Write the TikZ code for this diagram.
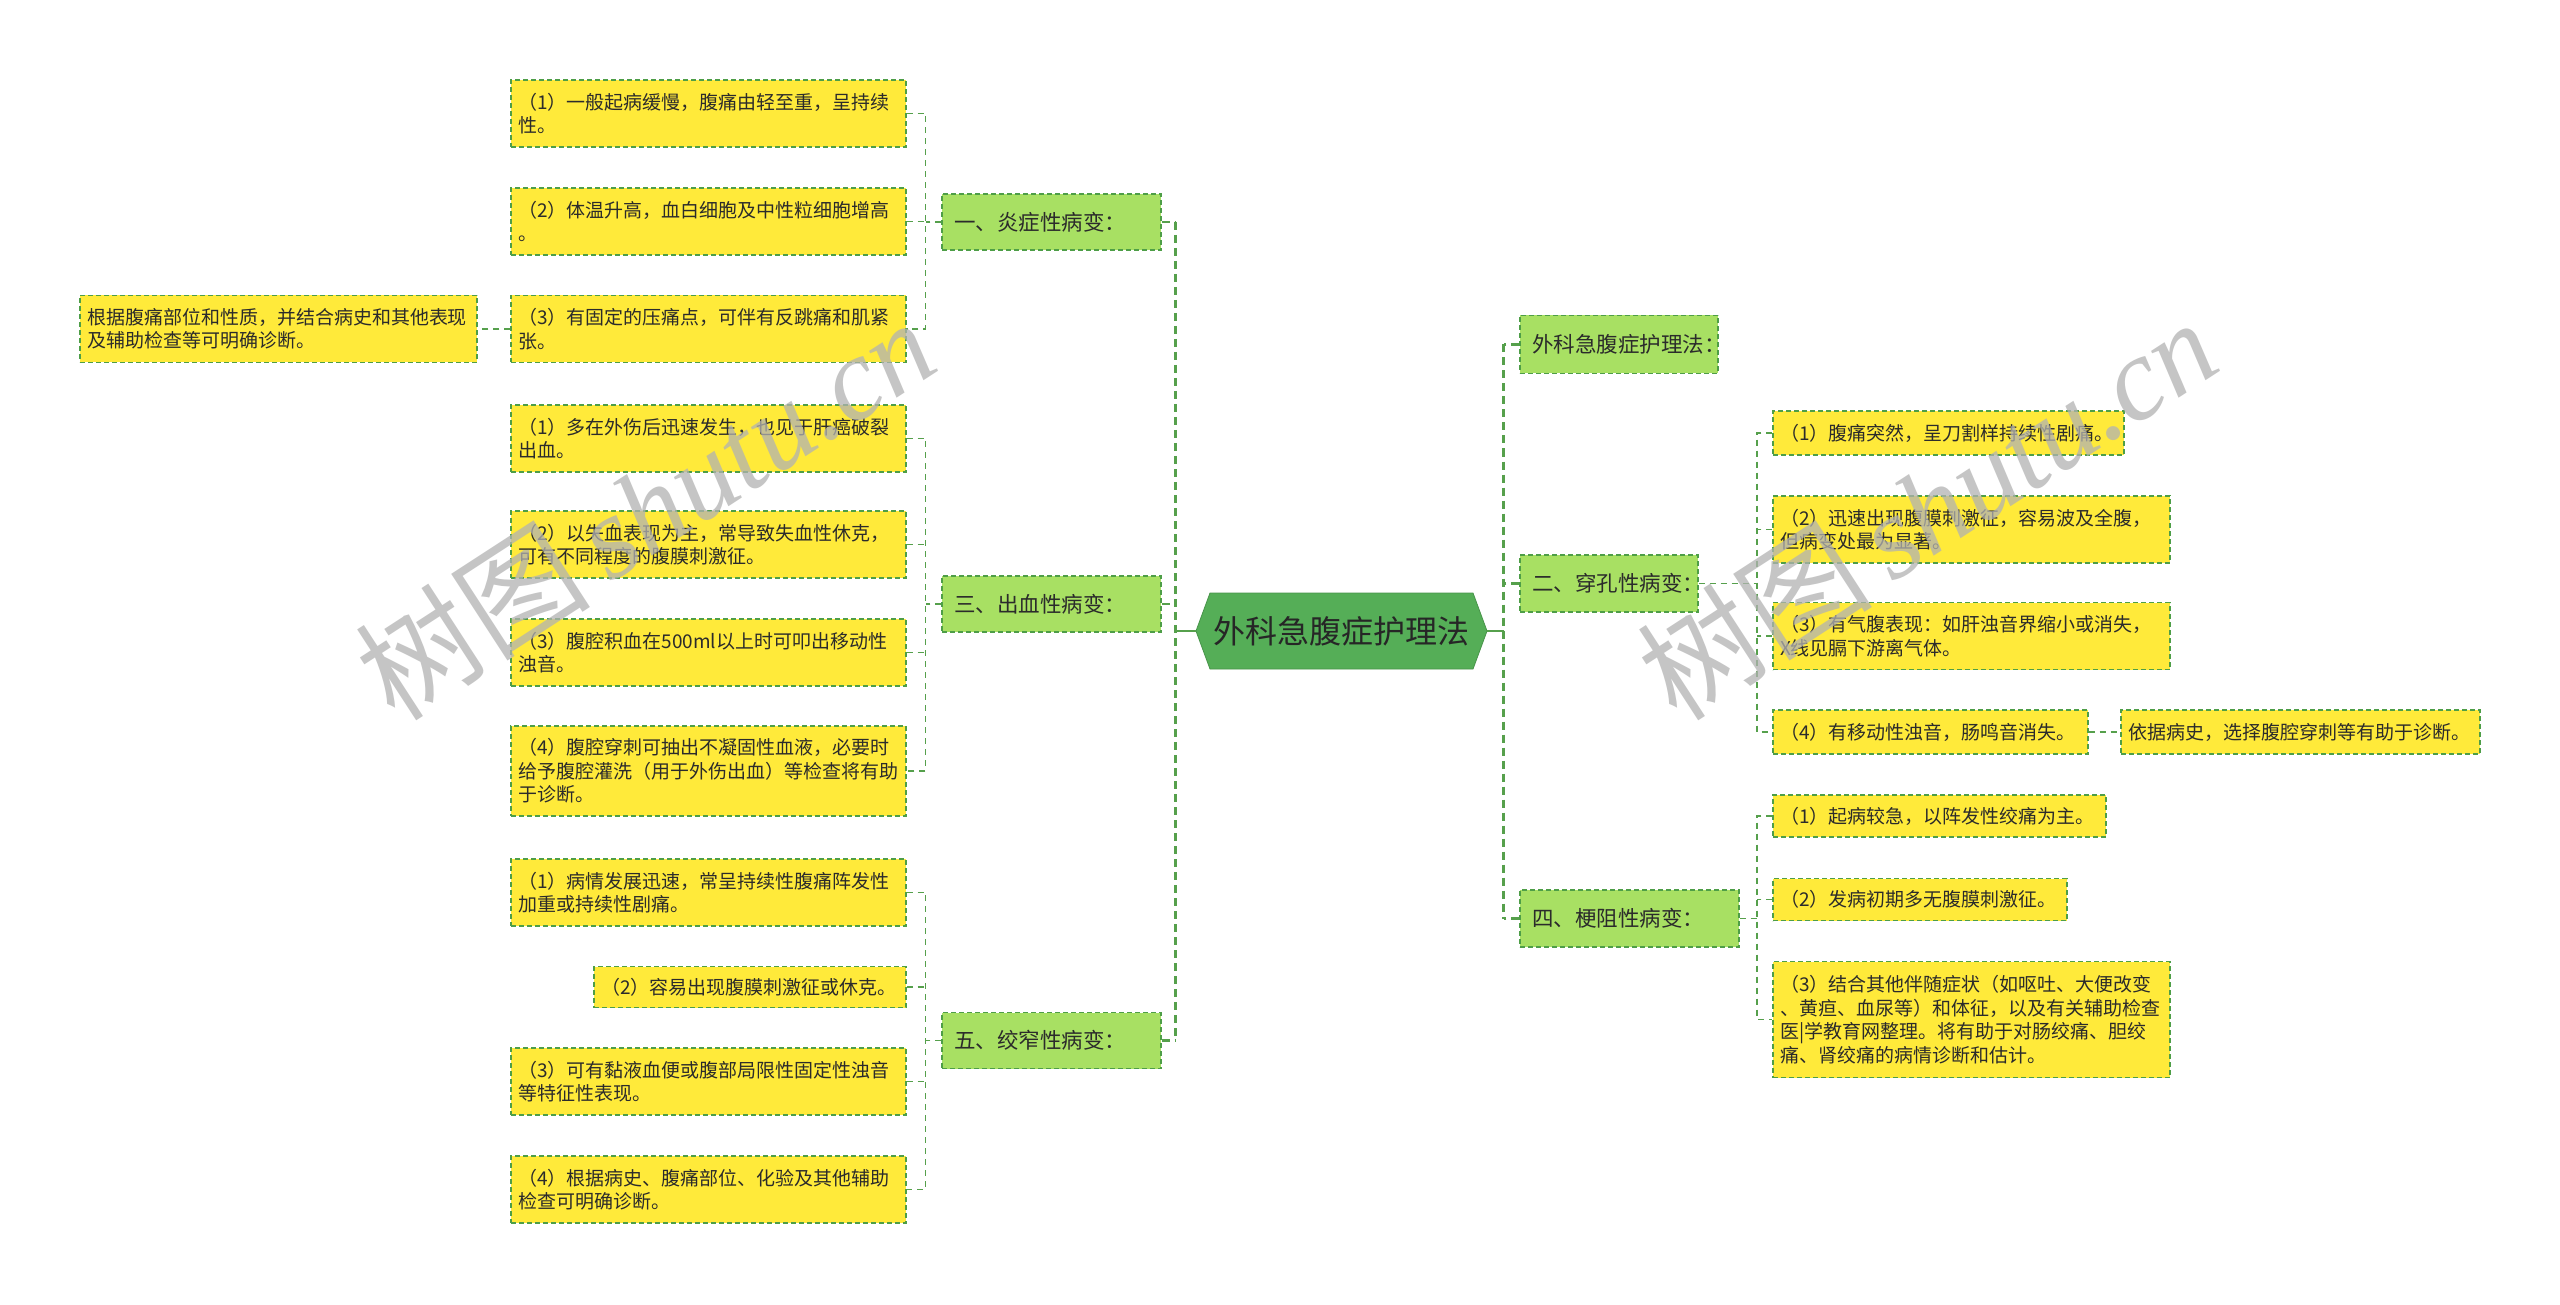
\documentclass[tikz,border=0pt]{standalone}
\usepackage{fontspec}
\setmainfont{Noto Sans CJK SC}
\newfontfamily\wmlatin{Liberation Serif}
\newfontfamily\wmcjk{Noto Sans CJK SC}
\definecolor{leafy}{HTML}{FFEA3A}
\definecolor{branchg}{HTML}{A8E063}
\definecolor{centerg}{HTML}{55AE57}
\definecolor{borderg}{HTML}{4E9E47}
\definecolor{linkg}{HTML}{56A04C}
\definecolor{txt}{HTML}{2B2B2B}
\begin{document}
\begin{tikzpicture}[x=1pt,y=-1pt,
  leaf/.style={draw=borderg, fill=leafy, line width=1.3pt, dash pattern=on 5pt off 3pt,
    font=\fontsize{19}{23.5}\selectfont, text=txt, align=left, inner xsep=7pt, inner ysep=0pt},
  branch/.style={draw=borderg, fill=branchg, line width=1.3pt, dash pattern=on 5pt off 3pt,
    font=\fontsize{21.5}{26}\selectfont, text=txt, align=left, inner xsep=12pt, inner ysep=0pt},
  conn/.style={draw=linkg, line width=1.4pt, dash pattern=on 6pt off 5pt},
  trunkc/.style={draw=linkg, line width=2.6pt, dash pattern=on 8pt off 5pt},
  solidc/.style={draw=linkg, line width=2.6pt},
  wm/.style={text=black!30, opacity=0.75, rotate=33, inner sep=0pt}
]
\useasboundingbox (0,0) rectangle (2560,1305);
\fill[white] (0,0) rectangle (2560,1305);

\coordinate (v1) at (925.7,0);
\coordinate (tl) at (1175.5,0);
\coordinate (tr) at (1503.7,0);
\coordinate (vr) at (1757,0);

% ---------- center ----------
\path[fill=centerg, draw=centerg!85!black, line width=0.8pt]
  (1196,631) -- (1210,593) -- (1473,593) -- (1487,631) -- (1473,669) -- (1210,669) -- cycle;
\node[minimum width=291pt, minimum height=76pt, inner sep=0pt, text=black!85,
  font=\fontsize{32}{36}\selectfont] (hex) at (1341.5,631) {外科急腹症护理法};

% ---------- left branches ----------
\node[branch, minimum width=219pt, text width=195pt, minimum height=56pt] (b1) at (1051.5,222) {一、炎症性病变：};
\node[branch, minimum width=219pt, text width=195pt, minimum height=56pt] (b3) at (1051.5,604) {三、出血性病变：};
\node[branch, minimum width=219pt, text width=195pt, minimum height=56pt] (b5) at (1051.5,1040.5) {五、绞窄性病变：};

% 一
\node[leaf, minimum width=395pt, text width=381pt, minimum height=67pt] (l1a) at (708.5,113.5)
  {（1）一般起病缓慢，腹痛由轻至重，呈持续\\性。};
\node[leaf, minimum width=395pt, text width=381pt, minimum height=67pt] (l1b) at (708.5,221.5)
  {（2）体温升高，血白细胞及中性粒细胞增高\\。};
\node[leaf, minimum width=395pt, text width=381pt, minimum height=67pt] (l1c) at (708.5,329)
  {（3）有固定的压痛点，可伴有反跳痛和肌紧\\张。};
\node[leaf, minimum width=397pt, text width=383pt, minimum height=67pt] (far) at (278.5,329)
  {根据腹痛部位和性质，并结合病史和其他表现\\及辅助检查等可明确诊断。};

% 三
\node[leaf, minimum width=395pt, text width=381pt, minimum height=67pt] (l3a) at (708.5,438.5)
  {（1）多在外伤后迅速发生，也见于肝癌破裂\\出血。};
\node[leaf, minimum width=395pt, text width=381pt, minimum height=67pt] (l3b) at (708.5,544.5)
  {（2）以失血表现为主，常导致失血性休克，\\可有不同程度的腹膜刺激征。};
\node[leaf, minimum width=395pt, text width=381pt, minimum height=67pt] (l3c) at (708.5,652.5)
  {（3）腹腔积血在500ml以上时可叩出移动性\\浊音。};
\node[leaf, minimum width=395pt, text width=381pt, minimum height=90pt] (l3d) at (708.5,771)
  {（4）腹腔穿刺可抽出不凝固性血液，必要时\\给予腹腔灌洗（用于外伤出血）等检查将有助\\于诊断。};

% 五
\node[leaf, minimum width=395pt, text width=381pt, minimum height=67pt] (l5a) at (708.5,892.5)
  {（1）病情发展迅速，常呈持续性腹痛阵发性\\加重或持续性剧痛。};
\node[leaf, minimum width=312pt, text width=298pt, minimum height=41pt] (l5b) at (750,987)
  {（2）容易出现腹膜刺激征或休克。};
\node[leaf, minimum width=395pt, text width=381pt, minimum height=67pt] (l5c) at (708.5,1081.5)
  {（3）可有黏液血便或腹部局限性固定性浊音\\等特征性表现。};
\node[leaf, minimum width=395pt, text width=381pt, minimum height=67pt] (l5d) at (708.5,1189.5)
  {（4）根据病史、腹痛部位、化验及其他辅助\\检查可明确诊断。};

% ---------- right branches ----------
\node[branch, minimum width=198pt, text width=174pt, minimum height=58pt] (r0) at (1619,344.5) {外科急腹症护理法：};
\node[branch, minimum width=178pt, text width=154pt, minimum height=57pt] (r2) at (1609,583.5) {二、穿孔性病变：};
\node[branch, minimum width=219pt, text width=195pt, minimum height=57pt] (r4) at (1629.5,918.5) {四、梗阻性病变：};

% 二
\node[leaf, minimum width=351pt, text width=337pt, minimum height=44pt] (r2a) at (1948.5,433)
  {（1）腹痛突然，呈刀割样持续性剧痛。};
\node[leaf, minimum width=397pt, text width=383pt, minimum height=67pt] (r2b) at (1971.5,529.5)
  {（2）迅速出现腹膜刺激征，容易波及全腹，\\但病变处最为显著。};
\node[leaf, minimum width=397pt, text width=383pt, minimum height=67pt] (r2c) at (1971.5,636)
  {（3）有气腹表现：如肝浊音界缩小或消失，\\X线见膈下游离气体。};
\node[leaf, minimum width=315pt, text width=301pt, minimum height=44pt] (r2d) at (1930.5,732)
  {（4）有移动性浊音，肠鸣音消失。};
\node[leaf, minimum width=359pt, text width=345pt, minimum height=44pt] (r2e) at (2300.5,732)
  {依据病史，选择腹腔穿刺等有助于诊断。};

% 四
\node[leaf, minimum width=333pt, text width=319pt, minimum height=42pt] (r4a) at (1939.5,816)
  {（1）起病较急，以阵发性绞痛为主。};
\node[leaf, minimum width=294pt, text width=280pt, minimum height=42pt] (r4b) at (1920,899.5)
  {（2）发病初期多无腹膜刺激征。};
\node[leaf, minimum width=397pt, text width=383pt, minimum height=116pt] (r4c) at (1971.5,1019.6)
  {（3）结合其他伴随症状（如呕吐、大便改变\\、黄疸、血尿等）和体征，以及有关辅助检查\\医|学教育网整理。将有助于对肠绞痛、胆绞\\痛、肾绞痛的病情诊断和估计。};

% ---------- connectors ----------
% center to trunks
\draw[solidc] (hex.west) -- (hex.west -| tl);
\draw[solidc] (hex.east) -- (hex.east -| tr);
\draw[trunkc] (b1.east -| tl) -- (b5.east -| tl);
\draw[trunkc] (b1.east) -- (b1.east -| tl);
\draw[trunkc] (b3.east) -- (b3.east -| tl);
\draw[trunkc] (b5.east) -- (b5.east -| tl);
\draw[trunkc] (r0.west -| tr) -- (r4.west -| tr);
\draw[trunkc] (r0.west) -- (r0.west -| tr);
\draw[trunkc] (r2.west) -- (r2.west -| tr);
\draw[trunkc] (r4.west) -- (r4.west -| tr);

% 一 group
\draw[conn] (l1a.east) -- (l1a.east -| v1) -- (l1c.east -| v1) -- (l1c.east);
\draw[conn] (l1b.east) -- (l1b.east -| v1);
\draw[conn] (b1.west) -- (b1.west -| v1);
\draw[conn] (l1c.west) -- (far.east);
% 三 group
\draw[conn] (l3a.east) -- (l3a.east -| v1) -- (l3d.east -| v1) -- (l3d.east);
\draw[conn] (l3b.east) -- (l3b.east -| v1);
\draw[conn] (l3c.east) -- (l3c.east -| v1);
\draw[conn] (b3.west) -- (b3.west -| v1);
% 五 group
\draw[conn] (l5a.east) -- (l5a.east -| v1) -- (l5d.east -| v1) -- (l5d.east);
\draw[conn] (l5b.east) -- (l5b.east -| v1);
\draw[conn] (l5c.east) -- (l5c.east -| v1);
\draw[conn] (b5.west) -- (b5.west -| v1);
% 二 group
\draw[conn] (r2a.west) -- (r2a.west -| vr) -- (r2d.west -| vr) -- (r2d.west);
\draw[conn] (r2b.west) -- (r2b.west -| vr);
\draw[conn] (r2c.west) -- (r2c.west -| vr);
\draw[conn] (r2.east) -- (r2.east -| vr);
\draw[conn] (r2d.east) -- (r2e.west);
% 四 group
\draw[conn] (r4a.west) -- (r4a.west -| vr) -- (r4c.west -| vr) -- (r4c.west);
\draw[conn] (r4b.west) -- (r4b.west -| vr);
\draw[conn] (r4.east) -- (r4.east -| vr);

% ---------- watermarks ----------
\node[wm] (wm1) at (645,508) {\fontsize{118}{120}\selectfont\wmcjk 树图\,\wmlatin\itshape shutu.cn};
\node[wm] (wm2) at (1927,508) {\fontsize{118}{120}\selectfont\wmcjk 树图\,\wmlatin\itshape shutu.cn};
\end{tikzpicture}
\end{document}
